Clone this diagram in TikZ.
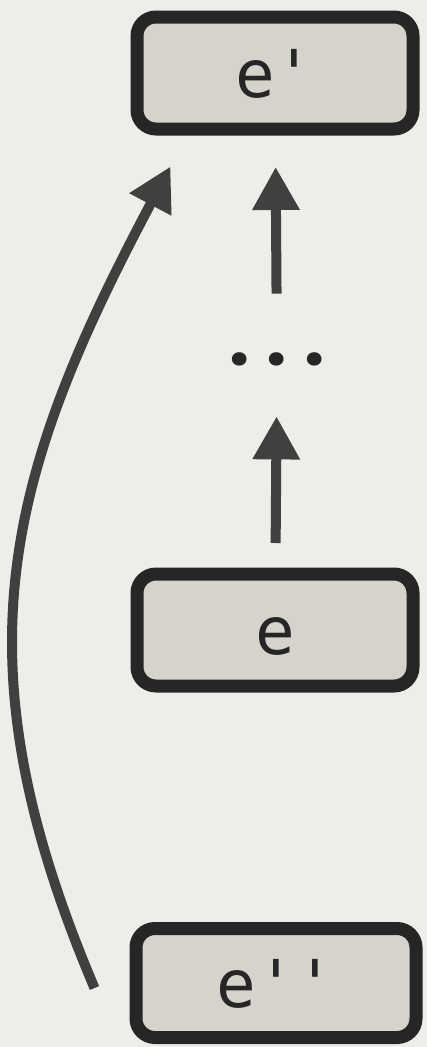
\documentclass[tikz,border=0pt]{standalone}
\usepackage{fontspec}
\usetikzlibrary{arrows.meta}
\newfontfamily\boxfont{DejaVu Sans Mono}
\newfontfamily\dotfont[LetterSpace=24]{Poppins}
\definecolor{paper}{HTML}{EFEDE9}
\definecolor{boxfill}{HTML}{D6D2CC}
\definecolor{boxline}{HTML}{262626}
\definecolor{arrowcol}{HTML}{404040}

\begin{document}
\begin{tikzpicture}[x=1pt,y=-1pt,
  expr/.style={draw=boxline, fill=boxfill, line width=13pt, rounded corners=19pt,
    minimum width=276pt, minimum height=112pt, inner sep=0pt, text=boxline,
    font=\boxfont\fontsize{66}{66}\selectfont, text height=48pt, text depth=0pt},
  uparrow/.style={draw=arrowcol, line width=10pt, -{Triangle[width=45pt,length=43pt]}}]
% Fondo
\useasboundingbox (0,0) rectangle (427,1047);
\fill[paper] (0,0) rectangle (427,1047);

% Expresiones
\node [expr] (ep) at (275,73) {e'};
\node [expr] (e) at (275,630) {e};
\node [expr, minimum width=280pt, minimum height=109pt] (epp) at (276,983) {e''};
\node [text=boxline, font=\dotfont\bfseries\fontsize{72}{72}\selectfont, inner sep=0pt] (dots) at (277,359) {...};

% Flechas
\draw [uparrow, shorten <=58.5pt, shorten >=31.5pt] (dots) -- (ep);
\draw [uparrow, shorten <=24.5pt, shorten >=50.5pt] (e) -- (dots);
\draw [uparrow, looseness=1.1] ([xshift=-35pt,yshift=-5pt]epp.west) to[out=113,in=242] ([xshift=40pt,yshift=-31pt]ep.south west);
\end{tikzpicture}
\end{document}
